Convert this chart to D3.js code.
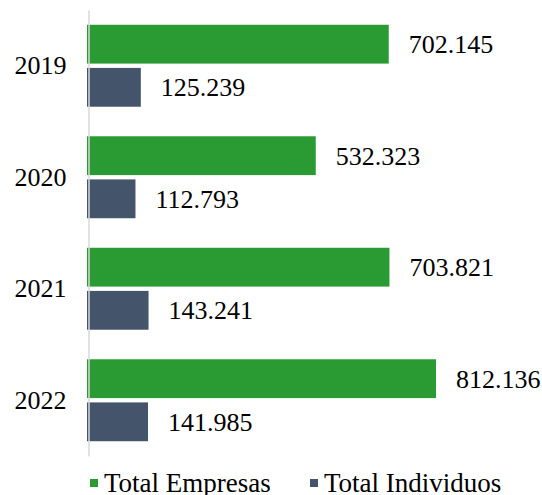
<!DOCTYPE html>
<html>
<head>
<meta charset="utf-8">
<script src="https://cdn.jsdelivr.net/npm/d3@7"></script>
<style>
  body { margin: 0; background: #fff; }
  text { font-family: "Liberation Serif", "Times New Roman", serif; fill: #000; }
</style>
</head>
<body>
<svg id="chart" width="542" height="495"></svg>
<script>
// data
var years = ["2019", "2020", "2021", "2022"];
var series = ["Total Empresas", "Total Individuos"];
var empresas = [702145, 532323, 703821, 812136];
var individuos = [125239, 112793, 143241, 141985];
var colors = ["#2a9b32", "#44546a"];

var data = years.map((y, i) => ({year: y, values: [empresas[i], individuos[i]]}));

var svg = d3.select("#chart");

var fmt = v => d3.format(",")(v).replace(/,/g, ".");

var y = d3.scaleBand()
  .domain(years)
  .range([10, 456])
  .paddingInner(0.265)
  .paddingOuter(0.1325);

var ySub = d3.scaleBand()
  .domain(series)
  .range([0, y.bandwidth()])
  .paddingInner(0.1);

var x = d3.scaleLinear()
  .domain([0, 812136])
  .range([87, 436]);

// bars
var groups = svg.selectAll(".grp")
  .data(data)
  .enter().append("g")
  .attr("class", "grp")
  .attr("transform", d => "translate(0," + y(d.year) + ")");

groups.selectAll("rect")
  .data(d => d.values.map((v, j) => ({key: series[j], value: v, c: colors[j]})))
  .enter().append("rect")
  .attr("x", x(0))
  .attr("y", d => ySub(d.key))
  .attr("height", ySub.bandwidth())
  .attr("width", d => x(d.value) - x(0))
  .attr("fill", d => d.c);

groups.selectAll(".lbl")
  .data(d => d.values.map((v, j) => ({key: series[j], value: v})))
  .enter().append("text")
  .attr("class", "lbl")
  .attr("x", d => x(d.value) + 20)
  .attr("y", d => ySub(d.key) + ySub.bandwidth() / 2)
  .attr("dy", "0.35em")
  .style("font-size", "26px")
  .text(d => fmt(d.value));

// y axis
var yAxis = d3.axisLeft(y).tickSize(0).tickPadding(22);
var ga = svg.append("g")
  .attr("transform", "translate(88.5,0)")
  .call(yAxis);
ga.select(".domain").attr("stroke", "#d9d9d9").attr("stroke-width", 1.5);
ga.selectAll("text")
  .style("font-size", "26px")
  .attr("font-family", null)
  .attr("fill", "#000");

// legend
var legend = svg.append("g")
  .selectAll("g")
  .data(series)
  .enter().append("g")
  .attr("transform", (d, i) => "translate(" + [90, 310][i] + ",483)");

legend.append("rect")
  .attr("x", 0)
  .attr("y", -4)
  .attr("width", 8)
  .attr("height", 8)
  .attr("fill", (d, i) => colors[i]);

legend.append("text")
  .attr("x", 14)
  .attr("dy", "0.35em")
  .style("font-size", "27px")
  .text(d => d);
</script>
</body>
</html>
